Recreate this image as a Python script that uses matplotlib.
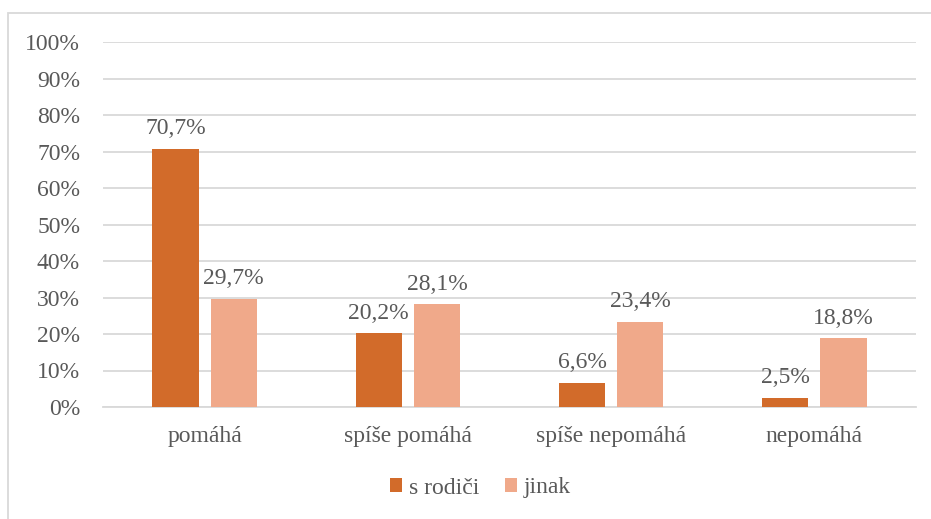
import matplotlib.pyplot as plt
import matplotlib.patches as patches
import numpy as np

# data
kategorie = ['pomáhá', 'spíše pomáhá', 'spíše nepomáhá', 'nepomáhá']
s_rodici = [70.7, 20.2, 6.6, 2.5]
jinak = [29.7, 28.1, 23.4, 18.8]
serie = ['s rodiči', 'jinak']

plt.rcParams['font.family'] = 'serif'
plt.rcParams['font.serif'] = ['Liberation Serif', 'Times New Roman', 'DejaVu Serif']
text_col = '#595959'
grid_col = '#D9D9D9'
c1 = '#D26B2A'
c2 = '#F0A98A'
fs = 17

fig = plt.figure(figsize=(9.31, 5.19), dpi=100)
ax = fig.add_axes([103 / 931, 1 - 407 / 519, 813 / 931, 365 / 519])

x = np.arange(len(kategorie))
w = 0.227
off = 0.143
b1 = ax.bar(x - off, s_rodici, w, color=c1, label=serie[0], zorder=3)
b2 = ax.bar(x + off, jinak, w, color=c2, label=serie[1], zorder=3)

for bars, vals in [(b1, s_rodici), (b2, jinak)]:
    for b, v in zip(bars, vals):
        ax.annotate(f'{v:.1f}%'.replace('.', ','),
                    (b.get_x() + b.get_width() / 2, v),
                    xytext=(0, 7), textcoords='offset points',
                    ha='center', va='bottom', fontsize=fs, color=text_col)

ax.set_xlim(-0.5, 3.5)
ax.set_ylim(0, 100)
ax.set_yticks(range(0, 101, 10))
ax.set_yticklabels([f'{v}%' for v in range(0, 101, 10)])
ax.set_xticks(x)
ax.set_xticklabels(kategorie)
ax.tick_params(axis='both', length=0, labelsize=fs, labelcolor=text_col)
ax.tick_params(axis='y', pad=16.5)
ax.tick_params(axis='x', pad=14)
ax.grid(axis='y', color=grid_col, linewidth=1.3, zorder=0)
for s in ['top', 'right', 'left']:
    ax.spines[s].set_visible(False)
ax.spines['bottom'].set_color(grid_col)
ax.spines['bottom'].set_linewidth(1.3)

leg = fig.legend(loc='center', bbox_to_anchor=(0.516, 1 - 488 / 519), ncol=2,
                 frameon=False, fontsize=fs, handlelength=0.5, handleheight=0.5,
                 handletextpad=0.3, columnspacing=1.1)
for t in leg.get_texts():
    t.set_color(text_col)

# ramecek grafu
fig.patches.append(patches.Rectangle((8 / 931, -0.1), 1.0, 1.1 - 13 / 519,
                                     transform=fig.transFigure, fill=False,
                                     edgecolor=grid_col, linewidth=1.3))

fig.savefig('out.png', dpi=100)
